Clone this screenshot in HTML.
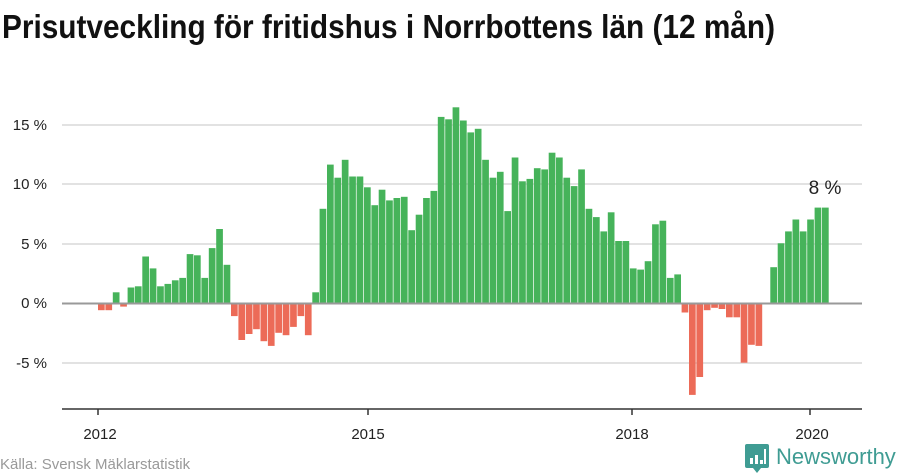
<!DOCTYPE html>
<html><head><meta charset="utf-8"><style>
html,body{margin:0;padding:0;background:#fff;}
svg{display:block;font-family:"Liberation Sans","DejaVu Sans",sans-serif;}
.g{fill:#46b35a}.r{fill:#ec6b58}
</style></head><body>
<svg width="900" height="474" viewBox="0 0 900 474" xmlns="http://www.w3.org/2000/svg">
<text x="2" y="38" font-size="33" font-weight="bold" fill="#111" textLength="773" lengthAdjust="spacingAndGlyphs">Prisutveckling för fritidshus i Norrbottens län (12 mån)</text>
<g stroke="#e2e2e2" stroke-width="2">
<line x1="62" x2="862" y1="125" y2="125"/>
<line x1="62" x2="862" y1="184" y2="184"/>
<line x1="62" x2="862" y1="244" y2="244"/>
<line x1="62" x2="862" y1="363" y2="363"/>
</g>
<g font-size="15" fill="#222" text-anchor="end">
<text x="47" y="130">15 %</text>
<text x="47" y="189">10 %</text>
<text x="47" y="249">5 %</text>
<text x="47" y="308">0 %</text>
<text x="47" y="368">-5 %</text>
</g>
<g>
<rect class="r" x="98.0" y="303" width="6.7" height="7.2"/>
<rect class="r" x="105.4" y="303" width="6.7" height="7.2"/>
<rect class="g" x="112.8" y="292.3" width="6.7" height="10.7"/>
<rect class="r" x="120.2" y="303" width="6.7" height="3.6"/>
<rect class="g" x="127.6" y="287.5" width="6.7" height="15.5"/>
<rect class="g" x="134.9" y="286.3" width="6.7" height="16.7"/>
<rect class="g" x="142.3" y="256.5" width="6.7" height="46.5"/>
<rect class="g" x="149.7" y="268.4" width="6.7" height="34.6"/>
<rect class="g" x="157.1" y="286.3" width="6.7" height="16.7"/>
<rect class="g" x="164.5" y="283.9" width="6.7" height="19.1"/>
<rect class="g" x="171.9" y="280.3" width="6.7" height="22.7"/>
<rect class="g" x="179.3" y="277.9" width="6.7" height="25.1"/>
<rect class="g" x="186.7" y="254.1" width="6.7" height="48.9"/>
<rect class="g" x="194.0" y="255.3" width="6.7" height="47.7"/>
<rect class="g" x="201.4" y="277.9" width="6.7" height="25.1"/>
<rect class="g" x="208.8" y="248.1" width="6.7" height="54.9"/>
<rect class="g" x="216.2" y="229.0" width="6.7" height="74.0"/>
<rect class="g" x="223.6" y="264.8" width="6.7" height="38.2"/>
<rect class="r" x="231.0" y="303" width="6.7" height="13.1"/>
<rect class="r" x="238.4" y="303" width="6.7" height="37.0"/>
<rect class="r" x="245.8" y="303" width="6.7" height="31.0"/>
<rect class="r" x="253.1" y="303" width="6.7" height="26.2"/>
<rect class="r" x="260.5" y="303" width="6.7" height="38.2"/>
<rect class="r" x="267.9" y="303" width="6.7" height="42.9"/>
<rect class="r" x="275.3" y="303" width="6.7" height="29.8"/>
<rect class="r" x="282.7" y="303" width="6.7" height="32.2"/>
<rect class="r" x="290.1" y="303" width="6.7" height="23.9"/>
<rect class="r" x="297.5" y="303" width="6.7" height="13.1"/>
<rect class="r" x="304.9" y="303" width="6.7" height="32.2"/>
<rect class="g" x="312.3" y="292.3" width="6.7" height="10.7"/>
<rect class="g" x="319.6" y="208.8" width="6.7" height="94.2"/>
<rect class="g" x="327.0" y="164.6" width="6.7" height="138.4"/>
<rect class="g" x="334.4" y="177.7" width="6.7" height="125.3"/>
<rect class="g" x="341.8" y="159.8" width="6.7" height="143.2"/>
<rect class="g" x="349.2" y="176.5" width="6.7" height="126.5"/>
<rect class="g" x="356.6" y="176.5" width="6.7" height="126.5"/>
<rect class="g" x="364.0" y="187.3" width="6.7" height="115.7"/>
<rect class="g" x="371.4" y="205.2" width="6.7" height="97.8"/>
<rect class="g" x="378.7" y="189.7" width="6.7" height="113.3"/>
<rect class="g" x="386.1" y="200.4" width="6.7" height="102.6"/>
<rect class="g" x="393.5" y="198.0" width="6.7" height="105.0"/>
<rect class="g" x="400.9" y="196.8" width="6.7" height="106.2"/>
<rect class="g" x="408.3" y="230.2" width="6.7" height="72.8"/>
<rect class="g" x="415.7" y="214.7" width="6.7" height="88.3"/>
<rect class="g" x="423.1" y="198.0" width="6.7" height="105.0"/>
<rect class="g" x="430.5" y="190.9" width="6.7" height="112.1"/>
<rect class="g" x="437.8" y="116.9" width="6.7" height="186.1"/>
<rect class="g" x="445.2" y="119.3" width="6.7" height="183.7"/>
<rect class="g" x="452.6" y="107.3" width="6.7" height="195.7"/>
<rect class="g" x="460.0" y="120.5" width="6.7" height="182.5"/>
<rect class="g" x="467.4" y="132.4" width="6.7" height="170.6"/>
<rect class="g" x="474.8" y="128.8" width="6.7" height="174.2"/>
<rect class="g" x="482.2" y="159.8" width="6.7" height="143.2"/>
<rect class="g" x="489.6" y="177.7" width="6.7" height="125.3"/>
<rect class="g" x="496.9" y="171.8" width="6.7" height="131.2"/>
<rect class="g" x="504.3" y="211.1" width="6.7" height="91.9"/>
<rect class="g" x="511.7" y="157.5" width="6.7" height="145.5"/>
<rect class="g" x="519.1" y="181.3" width="6.7" height="121.7"/>
<rect class="g" x="526.5" y="178.9" width="6.7" height="124.1"/>
<rect class="g" x="533.9" y="168.2" width="6.7" height="134.8"/>
<rect class="g" x="541.3" y="169.4" width="6.7" height="133.6"/>
<rect class="g" x="548.7" y="152.7" width="6.7" height="150.3"/>
<rect class="g" x="556.0" y="157.5" width="6.7" height="145.5"/>
<rect class="g" x="563.4" y="177.7" width="6.7" height="125.3"/>
<rect class="g" x="570.8" y="186.1" width="6.7" height="116.9"/>
<rect class="g" x="578.2" y="169.4" width="6.7" height="133.6"/>
<rect class="g" x="585.6" y="208.8" width="6.7" height="94.2"/>
<rect class="g" x="593.0" y="217.1" width="6.7" height="85.9"/>
<rect class="g" x="600.4" y="231.4" width="6.7" height="71.6"/>
<rect class="g" x="607.8" y="212.3" width="6.7" height="90.7"/>
<rect class="g" x="615.2" y="241.0" width="6.7" height="62.0"/>
<rect class="g" x="622.5" y="241.0" width="6.7" height="62.0"/>
<rect class="g" x="629.9" y="268.4" width="6.7" height="34.6"/>
<rect class="g" x="637.3" y="269.6" width="6.7" height="33.4"/>
<rect class="g" x="644.7" y="261.2" width="6.7" height="41.8"/>
<rect class="g" x="652.1" y="224.3" width="6.7" height="78.7"/>
<rect class="g" x="659.5" y="220.7" width="6.7" height="82.3"/>
<rect class="g" x="666.9" y="277.9" width="6.7" height="25.1"/>
<rect class="g" x="674.3" y="274.4" width="6.7" height="28.6"/>
<rect class="r" x="681.6" y="303" width="6.7" height="9.5"/>
<rect class="r" x="689.0" y="303" width="6.7" height="91.9"/>
<rect class="r" x="696.4" y="303" width="6.7" height="74.0"/>
<rect class="r" x="703.8" y="303" width="6.7" height="7.2"/>
<rect class="r" x="711.2" y="303" width="6.7" height="4.8"/>
<rect class="r" x="718.6" y="303" width="6.7" height="6.0"/>
<rect class="r" x="726.0" y="303" width="6.7" height="14.3"/>
<rect class="r" x="733.4" y="303" width="6.7" height="14.3"/>
<rect class="r" x="740.7" y="303" width="6.7" height="59.7"/>
<rect class="r" x="748.1" y="303" width="6.7" height="41.8"/>
<rect class="r" x="755.5" y="303" width="6.7" height="42.9"/>
<rect class="g" x="770.3" y="267.2" width="6.7" height="35.8"/>
<rect class="g" x="777.7" y="243.3" width="6.7" height="59.7"/>
<rect class="g" x="785.1" y="231.4" width="6.7" height="71.6"/>
<rect class="g" x="792.5" y="219.5" width="6.7" height="83.5"/>
<rect class="g" x="799.8" y="231.4" width="6.7" height="71.6"/>
<rect class="g" x="807.2" y="219.5" width="6.7" height="83.5"/>
<rect class="g" x="814.6" y="207.6" width="6.7" height="95.4"/>
<rect class="g" x="822.0" y="207.6" width="6.7" height="95.4"/>
</g>
<line x1="62" x2="862" y1="303.5" y2="303.5" stroke="#999" stroke-width="2"/>
<line x1="62" x2="862" y1="409" y2="409" stroke="#333" stroke-width="1.5"/>
<g stroke="#333" stroke-width="1.5">
<line x1="98" x2="98" y1="409" y2="415"/>
<line x1="368" x2="368" y1="409" y2="415"/>
<line x1="632" x2="632" y1="409" y2="415"/>
<line x1="810" x2="810" y1="409" y2="415"/>
</g>
<g font-size="15" fill="#222" text-anchor="middle">
<text x="100" y="439">2012</text>
<text x="368" y="439">2015</text>
<text x="632" y="439">2018</text>
<text x="812" y="439">2020</text>
</g>
<text x="825" y="194" font-size="19" fill="#222" text-anchor="middle">8 %</text>
<text x="0" y="469" font-size="15" fill="#999">Källa: Svensk Mäklarstatistik</text>
<g transform="translate(745,444)">
<path d="M2 0 H22 Q24 0 24 2 V22 Q24 24 22 24 H16 L12 29 L8 24 H2 Q0 24 0 22 V2 Q0 0 2 0 Z" fill="#3f9c93"/>
<rect x="5" y="14" width="3" height="6" fill="#fff"/>
<rect x="10" y="11" width="3" height="9" fill="#fff"/>
<rect x="15" y="16" width="3" height="4" fill="#fff"/>
<rect x="19" y="5" width="2" height="15" fill="#fff"/>
</g>
<text x="776" y="464" font-size="22" fill="#3f9c93">Newsworthy</text>
</svg>
</body></html>
